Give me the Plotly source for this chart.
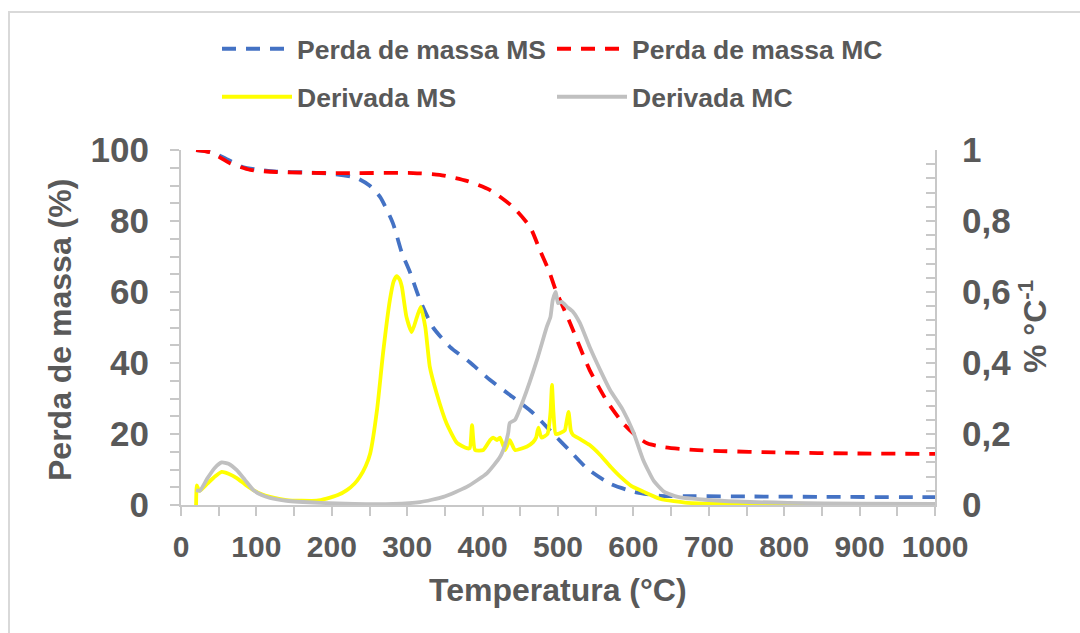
import plotly.graph_objects as go

# ---- data ----
temp_ms = [20, 40, 60, 82, 100, 127, 167, 200, 233, 250, 264, 281, 293, 304, 317, 334, 357, 383, 410, 440,
           467, 489, 516, 538, 570, 601, 636, 680, 750, 850, 982, 1000]
perda_ms = [100, 99.5, 97.5, 95.2, 94.5, 93.9, 93.7, 93.3, 92.1, 90, 86.8, 79.4, 71, 65.4, 57.7, 50.1, 44.5, 40.2, 35.2, 30.4,
            25.9, 21.1, 15.2, 10.4, 5.9, 3.7, 2.6, 2.5, 2.4, 2.3, 2.2, 2.2]

temp_mc = [20, 40, 65, 92, 127, 198, 233, 308, 343, 379, 410, 440, 463, 476, 489, 497, 516, 529, 542, 565,
           586, 605, 619, 641, 680, 716, 788, 900, 1000]
perda_mc = [100, 99.3, 96.3, 94.4, 93.8, 93.5, 93.5, 93.5, 93, 91.3, 88.7, 84, 78.3, 71.8, 65.4, 60.5, 51.3, 44.5, 38, 29.2,
            23.1, 19.2, 17.3, 16.3, 15.5, 15.2, 14.8, 14.5, 14.4]

temp_dms = [20, 21, 23, 25, 35, 45, 54, 63, 74, 85, 96, 107, 118, 140, 160, 180, 193, 208, 220, 230,
            237, 245, 251, 260, 268, 277, 282, 286, 290, 293, 299, 306, 313, 318, 324, 330, 339, 352, 366, 379,
            383, 386, 390, 401, 410, 414, 419, 423, 430, 436, 443, 459, 467, 471, 474, 478, 486, 490, 492, 494,
            497, 503, 509, 511, 514, 517, 520, 529, 542, 556, 570, 583, 597, 614, 636, 672, 716, 800, 900, 1000]
deriv_ms = [0.0, 0.055, 0.045, 0.04, 0.06, 0.08, 0.093, 0.088, 0.076, 0.058, 0.042, 0.03, 0.023, 0.014, 0.012, 0.012, 0.018, 0.028, 0.042, 0.06,
            0.079, 0.11, 0.146, 0.268, 0.428, 0.577, 0.63, 0.645, 0.635, 0.614, 0.53, 0.487, 0.53, 0.558, 0.501, 0.389, 0.315, 0.231, 0.175, 0.16,
            0.16, 0.225, 0.155, 0.155, 0.183, 0.19, 0.183, 0.19, 0.155, 0.183, 0.155, 0.165, 0.177, 0.19, 0.218, 0.19, 0.2, 0.26, 0.338, 0.26,
            0.2, 0.203, 0.21, 0.23, 0.262, 0.21, 0.197, 0.186, 0.169, 0.141, 0.107, 0.079, 0.054, 0.037, 0.017, 0.006, 0.003, 0.001, 0.0, 0.0]

temp_dmc = [20, 25, 35, 45, 54, 63, 74, 85, 96, 107, 118, 140, 184, 230, 281, 317, 348, 379, 406, 423,
            430, 434, 436, 443, 454, 472, 485, 490, 493, 497, 500, 505, 512, 520, 529, 542, 556, 569, 586, 600,
            613, 627, 641, 659, 716, 805, 900, 1000]
deriv_mc = [0.042, 0.04, 0.075, 0.105, 0.12, 0.116, 0.098, 0.07, 0.042, 0.028, 0.02, 0.012, 0.006, 0.003, 0.003, 0.008, 0.023, 0.051, 0.09, 0.135,
            0.17, 0.203, 0.231, 0.24, 0.296, 0.408, 0.501, 0.53, 0.577, 0.6, 0.569, 0.572, 0.558, 0.544, 0.513, 0.445, 0.38, 0.324, 0.268, 0.205,
            0.127, 0.068, 0.037, 0.023, 0.012, 0.006, 0.004, 0.003]

x_ticks = [0, 100, 200, 300, 400, 500, 600, 700, 800, 900, 1000]
y_ticks = [0, 20, 40, 60, 80, 100]
y2_ticks = [0, 0.2, 0.4, 0.6, 0.8, 1.0]
y2_labels = ["0", "0,2", "0,4", "0,6", "0,8", "1"]

TXT = "#595959"
AX = "#C8C8C8"
FONT = "Liberation Sans, Arial, sans-serif"

fig = go.Figure()
fig.add_trace(go.Scatter(x=temp_ms, y=perda_ms, name="Perda de massa MS", mode="lines",
                         line=dict(color="#4472C4", width=3.8, dash="14px,10px", shape="spline", smoothing=0.6),
                         legend="legend"))
fig.add_trace(go.Scatter(x=temp_mc, y=perda_mc, name="Perda de massa MC", mode="lines",
                         line=dict(color="#FF0000", width=3.8, dash="14px,10px", shape="spline", smoothing=0.6),
                         legend="legend"))
fig.add_trace(go.Scatter(x=temp_dms, y=deriv_ms, name="Derivada MS", mode="lines", yaxis="y2",
                         line=dict(color="#FFFF00", width=3.8, shape="spline", smoothing=0.5),
                         legend="legend2"))
fig.add_trace(go.Scatter(x=temp_dmc, y=deriv_mc, name="Derivada MC", mode="lines", yaxis="y2",
                         line=dict(color="#C0C0C0", width=3.8, shape="spline", smoothing=0.5),
                         legend="legend2"))

L, R, T, B = 181, 145, 150, 128
W, H = 1080, 633
pw, ph = W - L - R, H - T - B


def px(xp):
    return (xp - L) / pw


def py(yp):
    return (H - B - yp) / ph


fig.update_layout(
    width=W, height=H,
    margin=dict(l=L, r=R, t=T, b=B, autoexpand=False),
    paper_bgcolor="white", plot_bgcolor="white",
    separators=", ",
    font=dict(family=FONT, color=TXT, size=24, weight="bold"),
    xaxis=dict(range=[0, 1000], tickvals=x_ticks, showline=True, linecolor=AX, linewidth=2,
               ticks="outside", ticklen=9, tickcolor=AX, tickwidth=1.5, showgrid=False, zeroline=False,
               tickfont=dict(size=30, color=TXT, family=FONT, weight="bold"), ticklabelstandoff=5,
               minor=dict(dtick=50, ticks="outside", ticklen=9, tickcolor=AX, tickwidth=1.5, showgrid=False)),
    yaxis=dict(range=[0, 100], tickvals=y_ticks, showline=True, linecolor=AX, linewidth=2,
               ticks="outside", ticklen=9, tickcolor=AX, tickwidth=1.5, showgrid=False, zeroline=False,
               tickfont=dict(size=35, color=TXT, family=FONT, weight="bold"), ticklabelstandoff=14,
               minor=dict(dtick=5, ticks="outside", ticklen=9, tickcolor=AX, tickwidth=1.5, showgrid=False)),
    yaxis2=dict(range=[0, 1], tickvals=y2_ticks, ticktext=y2_labels, overlaying="y", side="right",
                showline=True, linecolor=AX, linewidth=2,
                ticks="inside", ticklen=9, tickcolor=AX, tickwidth=1.5, showgrid=False, zeroline=False,
                tickfont=dict(size=35, color=TXT, family=FONT, weight="bold"), ticklabelstandoff=18,
                minor=dict(dtick=0.04, ticks="inside", ticklen=9, tickcolor=AX, tickwidth=1.5, showgrid=False)),
    legend=dict(orientation="h", x=px(217), y=py(49), xanchor="left", yanchor="middle",
                itemwidth=70, entrywidth=250, entrywidthmode="pixels", bgcolor="rgba(0,0,0,0)",
                font=dict(size=26.5, color=TXT, family=FONT, weight="bold"), tracegroupgap=0),
    legend2=dict(orientation="h", x=px(217), y=py(97), xanchor="left", yanchor="middle",
                 itemwidth=70, entrywidth=250, entrywidthmode="pixels", bgcolor="rgba(0,0,0,0)",
                 font=dict(size=26.5, color=TXT, family=FONT, weight="bold"), tracegroupgap=0),
    shapes=[dict(type="rect", xref="paper", yref="paper", x0=px(9), x1=px(1095), y0=py(650), y1=py(12),
                 line=dict(color="#D9D9D9", width=2), fillcolor="rgba(0,0,0,0)", layer="below")],
    annotations=[
        dict(text="Perda de massa (%)", xref="paper", yref="paper", x=px(60), y=py(330), textangle=-90,
             showarrow=False, xanchor="center", yanchor="middle",
             font=dict(size=32, color=TXT, family=FONT, weight="bold")),
        dict(text="% °C<sup>-1</sup>", xref="paper", yref="paper", x=px(1033), y=py(327), textangle=-90,
             showarrow=False, xanchor="center", yanchor="middle",
             font=dict(size=32, color=TXT, family=FONT, weight="bold")),
        dict(text="Temperatura (°C)", xref="paper", yref="paper", x=px(558), y=py(590),
             showarrow=False, xanchor="center", yanchor="middle",
             font=dict(size=32, color=TXT, family=FONT, weight="bold")),
    ],
)

fig.write_html("out.html")
